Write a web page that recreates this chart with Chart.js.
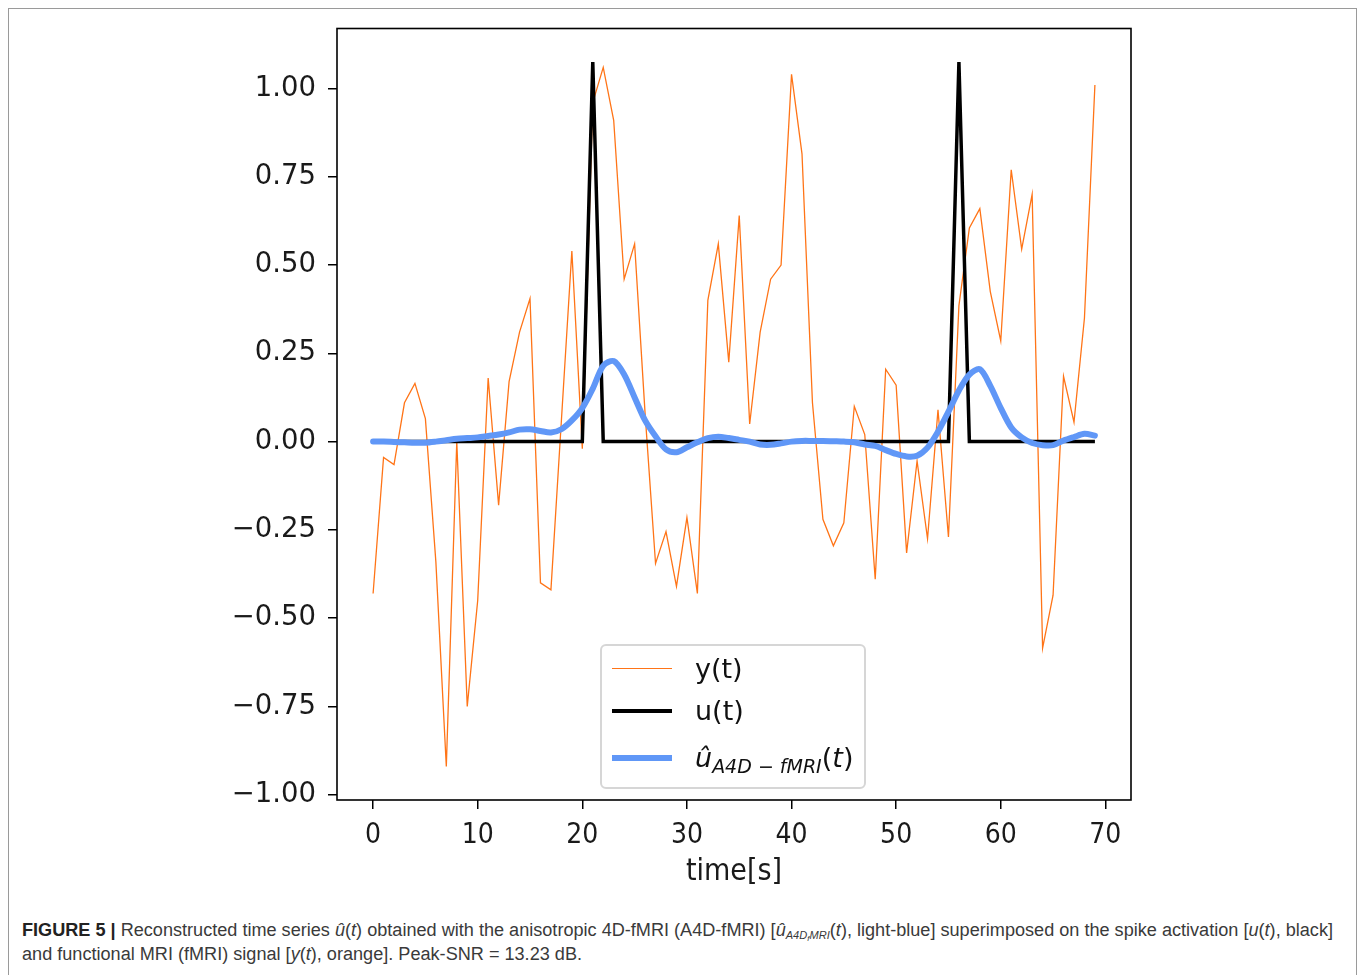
<!DOCTYPE html>
<html>
<head>
<meta charset="utf-8">
<script src="https://cdn.jsdelivr.net/npm/chart.js@4.4.1/dist/chart.umd.min.js"></script>
<style>
  html, body { margin: 0; padding: 0; background: #fff; }
  body { width: 1363px; height: 975px; position: relative; overflow: hidden; }
  #frame { position: absolute; left: 8px; top: 8px; width: 1347px; height: 990px; border: 1px solid #9a9a9a; }
  #wrap { position: absolute; left: 0; top: 0; width: 1363px; height: 900px; }
  #legend {
    position: absolute; left: 600px; top: 644px; width: 262px; height: 141px;
    border: 2px solid #d6d6d6; border-radius: 6px; background: rgba(255,255,255,0.85);
    font-family: "DejaVu Sans", sans-serif; color: #111;
  }
  .row { position: absolute; left: 0; height: 40px; width: 100%; }
  .swatch { position: absolute; left: 10px; width: 60px; }
  .lab { position: absolute; left: 93px; font-size: 27px; line-height: 40px; white-space: nowrap; }
  .lab i { font-style: italic; }
  .lab sub { font-size: 19px; vertical-align: -6px; }
  #caption {
    position: absolute; left: 22px; top: 918px;
    font-family: "Liberation Sans", Arial, sans-serif;
    font-size: 18px; color: #3a3a3a; white-space: nowrap;
  }
  .cl { display: block; height: 24px; line-height: 24px; transform-origin: 0 50%; }
  #caption b { color: #222; }
  #caption sub { font-size: 11px; line-height: 0; vertical-align: -3px; }
  #caption sub sub { font-size: 8px; vertical-align: -2px; }
</style>
</head>
<body>
<div id="frame"></div>
<div id="wrap"><canvas id="c" width="1363" height="900"></canvas></div>
<div id="legend">
  <div class="row" style="top:3px"><div class="swatch" style="top:19px;height:1.4px;background:#ff7417"></div><div class="lab">y(t)</div></div>
  <div class="row" style="top:45px"><div class="swatch" style="top:18px;height:4px;background:#000"></div><div class="lab">u(t)</div></div>
  <div class="row" style="top:92px"><div class="swatch" style="top:17px;height:6px;background:#6097f7"></div><div class="lab"><i>û</i><sub><i>A4D − fMRI</i></sub>(<i>t</i>)</div></div>
</div>
<div id="caption"><span class="cl" id="l1"><b>FIGURE 5 |</b> Reconstructed time series <i>û</i>(<i>t</i>) obtained with the anisotropic 4D-fMRI (A4D-fMRI) [<i>û</i><sub><i>A4D<sub>f</sub>MRI</i></sub>(<i>t</i>), light-blue] superimposed on the spike activation [<i>u</i>(<i>t</i>), black]</span><span class="cl" id="l2">and functional MRI (fMRI) signal [<i>y</i>(<i>t</i>), orange]. Peak-SNR = 13.23 dB.</span></div>
<script>
// temps (s)
const times = [0, 1, 2, 3, 4, 5, 6, 7, 8, 9, 10, 11, 12, 13, 14, 15, 16, 17, 18, 19,
  20, 21, 22, 23, 24, 25, 26, 27, 28, 29, 30, 31, 32, 33, 34, 35, 36, 37, 38, 39,
  40, 41, 42, 43, 44, 45, 46, 47, 48, 49, 50, 51, 52, 53, 54, 55, 56, 57, 58, 59,
  60, 61, 62, 63, 64, 65, 66, 67, 68, 69];

// signal fMRI y(t)
const ySignal = [-0.43, -0.045, -0.065, 0.11, 0.165, 0.065, -0.34, -0.92, 0.00, -0.75,
  -0.45, 0.18, -0.18, 0.17, 0.31, 0.405, -0.40, -0.42, 0.06, 0.54,
  -0.02, 0.96, 1.06, 0.91, 0.46, 0.56, 0.08, -0.345, -0.255, -0.41,
  -0.215, -0.43, 0.40, 0.56, 0.225, 0.64, 0.05, 0.31, 0.46, 0.50,
  1.04, 0.815, 0.11, -0.22, -0.295, -0.23, 0.10, 0.02, -0.39, 0.205,
  0.16, -0.315, -0.055, -0.275, 0.09, -0.27, 0.385, 0.605, 0.66, 0.425,
  0.285, 0.77, 0.545, 0.70, -0.585, -0.435, 0.185, 0.055, 0.35, 1.01];

// activation u(t)
const uSpike = [0, 0, 0, 0, 0, 0, 0, 0, 0, 0, 0, 0, 0, 0, 0, 0, 0, 0, 0, 0,
  0, 1.075, 0, 0, 0, 0, 0, 0, 0, 0, 0, 0, 0, 0, 0, 0, 0, 0, 0, 0,
  0, 0, 0, 0, 0, 0, 0, 0, 0, 0, 0, 0, 0, 0, 0, 0, 1.075, 0, 0, 0,
  0, 0, 0, 0, 0, 0, 0, 0, 0, 0];

// reconstruction A4D-fMRI
const uHat = [0.0, 0.0, -0.001, -0.002, -0.003, -0.003, 0.0, 0.004, 0.008, 0.01,
  0.012, 0.016, 0.02, 0.026, 0.034, 0.035, 0.03, 0.026, 0.035, 0.06,
  0.095, 0.15, 0.215, 0.228, 0.19, 0.125, 0.06, 0.015, -0.022, -0.03,
  -0.016, -0.002, 0.01, 0.014, 0.01, 0.005, 0.0, -0.008, -0.009, -0.005,
  0.0, 0.002, 0.002, 0.002, 0.001, 0.0, -0.002, -0.008, -0.012, -0.024,
  -0.035, -0.042, -0.04, -0.017, 0.028, 0.085, 0.145, 0.19, 0.205, 0.158,
  0.095, 0.04, 0.012, -0.004, -0.01, -0.01, 0.003, 0.013, 0.022, 0.017];

const xTicks = [0, 10, 20, 30, 40, 50, 60, 70];
const yTicks = [-1.0, -0.75, -0.5, -0.25, 0.0, 0.25, 0.5, 0.75, 1.0];

function pts(vals) {
  return times.map((t, i) => ({ x: t, y: vals[i] }));
}

// ajuster la légende à la largeur de la figure
const l1 = document.getElementById('l1'), l2 = document.getElementById('l2');
l1.style.display = 'inline-block';
const k = 1311 / l1.getBoundingClientRect().width;
l1.style.display = 'block';
l1.style.transform = 'scaleX(' + k + ')';
l2.style.transform = 'scaleX(' + k + ')';

// cadre complet autour de la zone du graphique
const boxPlugin = {
  id: 'box',
  afterDraw(chart) {
    const a = chart.chartArea, ctx = chart.ctx;
    ctx.save();
    ctx.strokeStyle = '#000';
    ctx.lineWidth = 1.6;
    ctx.strokeRect(a.left, a.top, a.right - a.left, a.bottom - a.top);
    ctx.restore();
  }
};

new Chart(document.getElementById('c'), {
  type: 'line',
  data: {
    datasets: [{
      label: 'y(t)',
      data: pts(ySignal),
      borderColor: '#ff7417',
      borderWidth: 1.3,
      order: 3
    }, {
      label: 'u(t)',
      data: pts(uSpike),
      borderColor: '#000000',
      borderWidth: 3.5,
      order: 2
    }, {
      label: 'û A4D-fMRI(t)',
      data: pts(uHat),
      borderColor: '#6097f7',
      borderWidth: 6,
      borderCapStyle: 'round',
      borderJoinStyle: 'round',
      tension: 0.3,
      order: 1
    }]
  },
  options: {
    responsive: false,
    animation: false,
    devicePixelRatio: 1,
    layout: { padding: { left: 0, top: 27, right: 232, bottom: 0 } },
    elements: { point: { radius: 0 }, line: { borderJoinStyle: 'miter' } },
    plugins: { legend: { display: false }, tooltip: { enabled: false } },
    scales: {
      x: {
        type: 'linear',
        min: -3.45,
        max: 72.45,
        afterBuildTicks: (scale) => { scale.ticks = xTicks.map(v => ({ value: v })); },
        afterFit: (scale) => { scale.height = 100; },
        grid: { drawOnChartArea: false, drawTicks: true, tickLength: 9, color: '#000', lineWidth: 1.5 },
        border: { display: false },
        ticks: {
          color: '#1a1a1a', padding: 10, maxRotation: 0,
          font: { family: '"DejaVu Sans Condensed", "DejaVu Sans", sans-serif', size: 28 },
          callback: (v) => String(v)
        },
        title: {
          display: true, text: 'time[s]', color: '#1a1a1a',
          font: { family: '"DejaVu Sans Condensed", "DejaVu Sans", sans-serif', size: 30 },
          padding: { top: 4, bottom: 10 }
        }
      },
      y: {
        type: 'linear',
        min: -1.015,
        max: 1.17,
        afterBuildTicks: (scale) => { scale.ticks = yTicks.map(v => ({ value: v })); },
        afterFit: (scale) => { scale.width = 337; },
        grid: { drawOnChartArea: false, drawTicks: true, tickLength: 9, color: '#000', lineWidth: 1.5 },
        border: { display: false },
        ticks: {
          color: '#1a1a1a', padding: 12,
          font: { family: '"DejaVu Sans", sans-serif', size: 27.5 },
          callback: (v) => v.toFixed(2).replace('-', '\u2212')
        }
      }
    }
  },
  plugins: [boxPlugin]
});
</script>
</body>
</html>
